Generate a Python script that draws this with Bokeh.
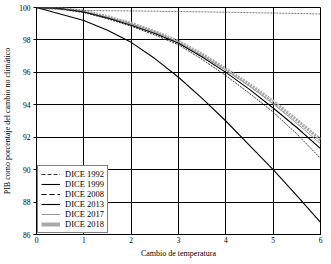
from bokeh.plotting import figure
from bokeh.models import Legend, LegendItem, FixedTicker, Range1d
from bokeh.embed import file_html
from bokeh.resources import INLINE

temps = [0, 0.5, 1, 1.5, 2, 2.5, 3, 3.5, 4, 4.5, 5, 5.5, 6]
dice_1992 = [100, 99.9, 99.82, 99.8, 99.79, 99.77, 99.75, 99.73, 99.71, 99.68, 99.66, 99.63, 99.6]
dice_1999 = [100, 99.6, 99.2, 98.6, 97.85, 96.85, 95.7, 94.4, 93.0, 91.5, 90.0, 88.4, 86.75]
dice_2008 = [100, 99.92, 99.7, 99.3, 98.85, 98.3, 97.7, 96.8, 95.8, 94.7, 93.55, 92.2, 90.7]
dice_2013 = [100, 99.93, 99.72, 99.35, 98.9, 98.4, 97.8, 96.95, 96.0, 94.95, 93.8, 92.6, 91.3]
dice_2017 = [100, 99.94, 99.75, 99.4, 99.0, 98.5, 97.85, 97.05, 96.15, 95.15, 94.05, 92.85, 91.6]
dice_2018 = [100, 99.94, 99.76, 99.42, 99.02, 98.5, 97.9, 97.1, 96.2, 95.25, 94.2, 93.05, 91.85]
labels = ["DICE 1992", "DICE 1999", "DICE 2008", "DICE 2013", "DICE 2017", "DICE 2018"]
x_ticks = [0, 1, 2, 3, 4, 5, 6]
y_ticks = [86, 88, 90, 92, 94, 96, 98, 100]

FONT = "Liberation Serif"

p = figure(width=331, height=264, output_backend="svg", toolbar_location=None,
           x_range=Range1d(0, 6), y_range=Range1d(86, 100),
           min_border_left=35, min_border_right=11, min_border_top=7, min_border_bottom=30)
p.background_fill_color = "white"
p.border_fill_color = "white"
p.outline_line_color = "black"
p.outline_line_width = 1

p.xaxis.ticker = FixedTicker(ticks=x_ticks)
p.yaxis.ticker = FixedTicker(ticks=y_ticks)
for ax in (p.xaxis[0], p.yaxis[0]):
    ax.major_tick_line_color = "black"
    ax.major_tick_in = 0
    ax.minor_tick_line_color = None
    ax.minor_tick_in = 0
    ax.minor_tick_out = 0
    ax.axis_line_color = "black"
    ax.major_label_text_font = FONT
    ax.major_label_text_font_size = "7.5px"
    ax.major_label_text_color = "black"
    ax.axis_label_text_font = FONT
    ax.axis_label_text_font_size = "8px"
    ax.axis_label_text_font_style = "normal"
    ax.axis_label_text_color = "black"
p.xaxis.major_tick_out = 0
p.yaxis.major_tick_out = 3
p.xaxis.axis_label = "Cambio de temperatura"
p.yaxis.axis_label = "PIB como porcentaje del cambio no climático"
p.xaxis.major_label_standoff = 2
p.yaxis.major_label_standoff = 3
p.xaxis.axis_label_standoff = 3
p.yaxis.axis_label_standoff = 4

p.xgrid.ticker = FixedTicker(ticks=x_ticks)
p.ygrid.ticker = FixedTicker(ticks=y_ticks)
p.grid.grid_line_color = "black"
p.grid.grid_line_width = 1
p.grid.grid_line_alpha = 1

r18 = p.line(temps, dice_2018, line_color="#aaaaaa", line_width=3.5, line_dash="2 1")
r17 = p.line(temps, dice_2017, line_color="#999999", line_width=1)
r13 = p.line(temps, dice_2013, line_color="black", line_width=1.1)
r08 = p.line(temps, dice_2008, line_color="#222222", line_width=0.9, line_dash="2 1")
r99 = p.line(temps, dice_1999, line_color="black", line_width=1.1)
r92 = p.line(temps, dice_1992, line_color="#555555", line_width=0.8, line_dash="2 1")

# legend glyph proxies, placed outside the visible ranges
px = [-10, -9]
py = [50, 50]
lg92 = p.line(px, py, line_color="#222222", line_width=0.9, line_dash="4 2")
lg99 = p.line(px, py, line_color="black", line_width=1.1)
lg08 = p.line(px, py, line_color="black", line_width=1.1, line_dash="5 3")
lg13 = p.line(px, py, line_color="black", line_width=1.1)
lg17 = p.line(px, py, line_color="#999999", line_width=1)
lg18 = p.line(px, py, line_color="#aaaaaa", line_width=4)

legend = Legend(items=[LegendItem(label=l, renderers=[r]) for l, r in
                       zip(labels, [lg92, lg99, lg08, lg13, lg17, lg18])],
                location=(1, 1))
legend.margin = 0
legend.padding = 3
legend.spacing = 0
legend.glyph_width = 19
legend.glyph_height = 10
legend.label_height = 10
legend.label_standoff = 5
legend.label_text_font = FONT
legend.label_text_font_size = "8.5px"
legend.label_text_color = "black"
legend.border_line_color = "black"
legend.border_line_width = 1
legend.background_fill_alpha = 1
p.add_layout(legend, "center")

open("out.html", "w").write(file_html(p, INLINE))
